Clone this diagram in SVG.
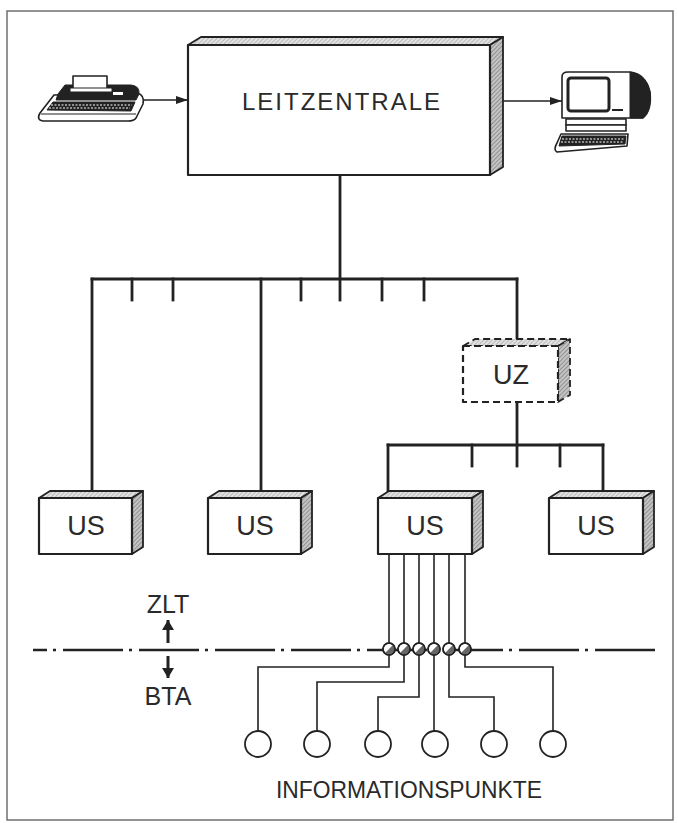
<svg xmlns="http://www.w3.org/2000/svg" width="678" height="823" viewBox="0 0 678 823">
<style>
.txt{font-family:"Liberation Sans",Arial,sans-serif;fill:#2a2a2a}
.face{fill:#fff;stroke:#222;stroke-width:2.2;stroke-linejoin:round}
.dash{stroke-dasharray:7 4}
.hatchtop{fill:url(#hatchL);stroke:#222;stroke-width:1.8;stroke-linejoin:round}
.hatchside{fill:url(#hatchD);stroke:#222;stroke-width:1.8;stroke-linejoin:round}
.bus{stroke:#222;stroke-width:2.8;fill:none;stroke-linecap:square}
.wire{stroke:#222;stroke-width:1.6;fill:none}
.icon{stroke:#222;stroke-width:1.6;fill:#fff;stroke-linejoin:round}
.dark{fill:#222;stroke:#222;stroke-width:1}
</style>
<defs>
<pattern id="hatchL" width="3" height="3" patternUnits="userSpaceOnUse" patternTransform="rotate(45)">
<rect width="3" height="3" fill="#e2e2e2"/>
<line x1="0" y1="0" x2="0" y2="3" stroke="#8a8a8a" stroke-width="0.9"/>
</pattern>
<pattern id="hatchD" width="3" height="3" patternUnits="userSpaceOnUse" patternTransform="rotate(45)">
<rect width="3" height="3" fill="#c4c4c4"/>
<line x1="0" y1="0" x2="0" y2="3" stroke="#666" stroke-width="1.1"/>
</pattern>
<marker id="arr" viewBox="0 0 12 8" refX="12" refY="4" markerWidth="12" markerHeight="8" markerUnits="userSpaceOnUse" orient="auto">
<path d="M0,0 L12,4 L0,8 Z" fill="#222"/>
</marker>
<marker id="arrB" viewBox="0 0 10 12" refX="10" refY="6" markerWidth="10" markerHeight="12" markerUnits="userSpaceOnUse" orient="auto">
<path d="M0,0 L10,6 L0,12 Z" fill="#222"/>
</marker>
<g id="xmark">
<circle cx="0" cy="0" r="6" fill="#fff" stroke="#222" stroke-width="1.6"/>
<path d="M4.2,-4.2 A6,6 0 0 1 -4.2,4.2 Z" fill="#666"/>
<circle cx="0" cy="0" r="6" fill="none" stroke="#222" stroke-width="1.6"/>
</g>
</defs>

<rect x="7" y="11" width="666" height="809" fill="none" stroke="#666" stroke-width="1.4"/>

<g id="connectors">
<!-- peripherals -->
<line x1="143" y1="100" x2="188" y2="100" class="wire" marker-end="url(#arr)"/>
<line x1="503" y1="101" x2="562" y2="101" class="wire" marker-end="url(#arr)"/>
<!-- main bus -->
<line x1="340" y1="175" x2="340" y2="300" class="bus"/>
<line x1="92" y1="279" x2="517" y2="279" class="bus"/>
<line x1="92" y1="279" x2="92" y2="491" class="bus"/>
<line x1="261" y1="279" x2="261" y2="491" class="bus"/>
<line x1="517" y1="279" x2="517" y2="339" class="bus"/>
<line x1="132" y1="279" x2="132" y2="300" class="bus"/>
<line x1="173" y1="279" x2="173" y2="300" class="bus"/>
<line x1="301" y1="279" x2="301" y2="300" class="bus"/>
<line x1="382" y1="279" x2="382" y2="300" class="bus"/>
<line x1="424" y1="279" x2="424" y2="300" class="bus"/>
<!-- sub bus -->
<line x1="517" y1="402" x2="517" y2="466" class="bus"/>
<line x1="388" y1="445" x2="603" y2="445" class="bus"/>
<line x1="388" y1="445" x2="388" y2="491" class="bus"/>
<line x1="603" y1="445" x2="603" y2="491" class="bus"/>
<line x1="472" y1="445" x2="472" y2="466" class="bus"/>
<line x1="560" y1="445" x2="560" y2="466" class="bus"/>
<!-- wires to information points -->
<path d="M389,554 V667 H258 V731" class="wire"/>
<path d="M404,554 V682 H317 V731" class="wire"/>
<path d="M419,554 V697 H378 V731" class="wire"/>
<path d="M434,554 V731" class="wire"/>
<path d="M449,554 V697 H494 V731" class="wire"/>
<path d="M465,554 V667 H553 V731" class="wire"/>
<!-- ZLT/BTA boundary -->
<line x1="33" y1="650" x2="656" y2="650" stroke="#222" stroke-width="2.6" stroke-dasharray="60 6 3 7" stroke-dashoffset="46"/>
<line x1="168" y1="643" x2="168" y2="620" stroke="#222" stroke-width="3" marker-end="url(#arrB)"/>
<line x1="168" y1="656" x2="168" y2="678" stroke="#222" stroke-width="3" marker-end="url(#arrB)"/>
</g>

<g id="crossings">
<use href="#xmark" x="389" y="649"/>
<use href="#xmark" x="404" y="649"/>
<use href="#xmark" x="419" y="649"/>
<use href="#xmark" x="434" y="649"/>
<use href="#xmark" x="449" y="649"/>
<use href="#xmark" x="465" y="649"/>
</g>

<g id="printer">
<path d="M40,113 L54,95 L137,93 Q145,95 143,104 L136,118 Q134,121 128,121 L43,121 Q36,120 40,113 Z" class="icon" stroke-width="2"/>
<path d="M58,94 L65,85 L131,85 Q140,86 139,94 L136,100 L56,100 Z" class="dark"/>
<rect x="73" y="76" width="34" height="14" class="icon"/>
<rect x="70" y="88" width="42" height="4" fill="#fff" stroke="#222" stroke-width="1"/>
<rect x="113" y="92" width="10" height="3" fill="#fff"/>
<path d="M47,110 L53,102 L135,102 L131,111 Z" class="dark"/>
<path d="M51,105 H132 M49,108 H130" stroke="#fff" stroke-width="1.2" stroke-dasharray="2 1.5"/>
<path d="M41,114 H136" stroke="#222" stroke-width="1.2"/>
</g>

<g id="terminal">
<path d="M562,77 Q562,72 568,72 L630,72 Q646,74 650,92 Q652,110 643,118 L562,118 Z" class="icon" stroke-width="2"/>
<path d="M630,72 Q646,74 650,92 Q652,110 643,118 L630,118 Z" class="dark"/>
<rect x="568" y="78" width="41" height="33" rx="3" fill="#fff" stroke="#222" stroke-width="3"/>
<line x1="612" y1="110" x2="623" y2="110" stroke="#222" stroke-width="2"/>
<rect x="566" y="119" width="60" height="6" class="icon"/>
<rect x="566" y="125" width="60" height="6" class="icon"/>
<path d="M557,143 L561,134 L628,134 L627,146 L557,152 Q553,150 557,143 Z" class="icon" stroke-width="2"/>
<path d="M562,136 L626,136 L625,144 L559,146 Z" class="dark"/>
<path d="M562,139 H624 M561,142 H624" stroke="#fff" stroke-width="1.2" stroke-dasharray="2 1.5"/>
</g>

<g id="leitzentrale">
<path d="M188,45 L201,37 L503,37 L490,45 Z" class="hatchtop"/>
<path d="M490,45 L503,37 L503,167 L490,175 Z" class="hatchside"/>
<rect x="188" y="45" width="302" height="130" class="face"/>
<text x="342" y="110" text-anchor="middle" class="txt" font-size="24" letter-spacing="2">LEITZENTRALE</text>
</g>

<g id="uz">
<path d="M463,346 L475,339 L570,339 L558,346 Z" class="hatchtop dash"/>
<path d="M558,346 L570,339 L570,395 L558,402 Z" class="hatchside dash"/>
<rect x="463" y="346" width="95" height="56" class="face dash"/>
<text x="511" y="384" text-anchor="middle" class="txt" font-size="27">UZ</text>
</g>

<g id="us1">
<path d="M39,498 L50,491 L143,491 L132,498 Z" class="hatchtop"/>
<path d="M132,498 L143,491 L143,547 L132,554 Z" class="hatchside"/>
<rect x="39" y="498" width="93" height="56" class="face"/>
<text x="86" y="535" text-anchor="middle" class="txt" font-size="27">US</text>
</g>

<g id="us2">
<path d="M208,498 L219,491 L312,491 L301,498 Z" class="hatchtop"/>
<path d="M301,498 L312,491 L312,547 L301,554 Z" class="hatchside"/>
<rect x="208" y="498" width="93" height="56" class="face"/>
<text x="255" y="535" text-anchor="middle" class="txt" font-size="27">US</text>
</g>

<g id="us3">
<path d="M378,498 L389,491 L483,491 L472,498 Z" class="hatchtop"/>
<path d="M472,498 L483,491 L483,547 L472,554 Z" class="hatchside"/>
<rect x="378" y="498" width="94" height="56" class="face"/>
<text x="425" y="535" text-anchor="middle" class="txt" font-size="27">US</text>
</g>

<g id="us4">
<path d="M549,498 L560,491 L654,491 L643,498 Z" class="hatchtop"/>
<path d="M643,498 L654,491 L654,547 L643,554 Z" class="hatchside"/>
<rect x="549" y="498" width="94" height="56" class="face"/>
<text x="596" y="535" text-anchor="middle" class="txt" font-size="27">US</text>
</g>

<g id="info-points" fill="#fff" stroke="#222" stroke-width="1.8">
<circle cx="258" cy="744" r="13"/>
<circle cx="317" cy="744" r="13"/>
<circle cx="378" cy="744" r="13"/>
<circle cx="435" cy="744" r="13"/>
<circle cx="494" cy="744" r="13"/>
<circle cx="553" cy="744" r="13"/>
</g>

<g id="labels">
<text x="168" y="613" text-anchor="middle" class="txt" font-size="25">ZLT</text>
<text x="168" y="705" text-anchor="middle" class="txt" font-size="25">BTA</text>
<text x="276" y="798" class="txt" font-size="23" textLength="266" lengthAdjust="spacingAndGlyphs">INFORMATIONSPUNKTE</text>
</g>
</svg>
